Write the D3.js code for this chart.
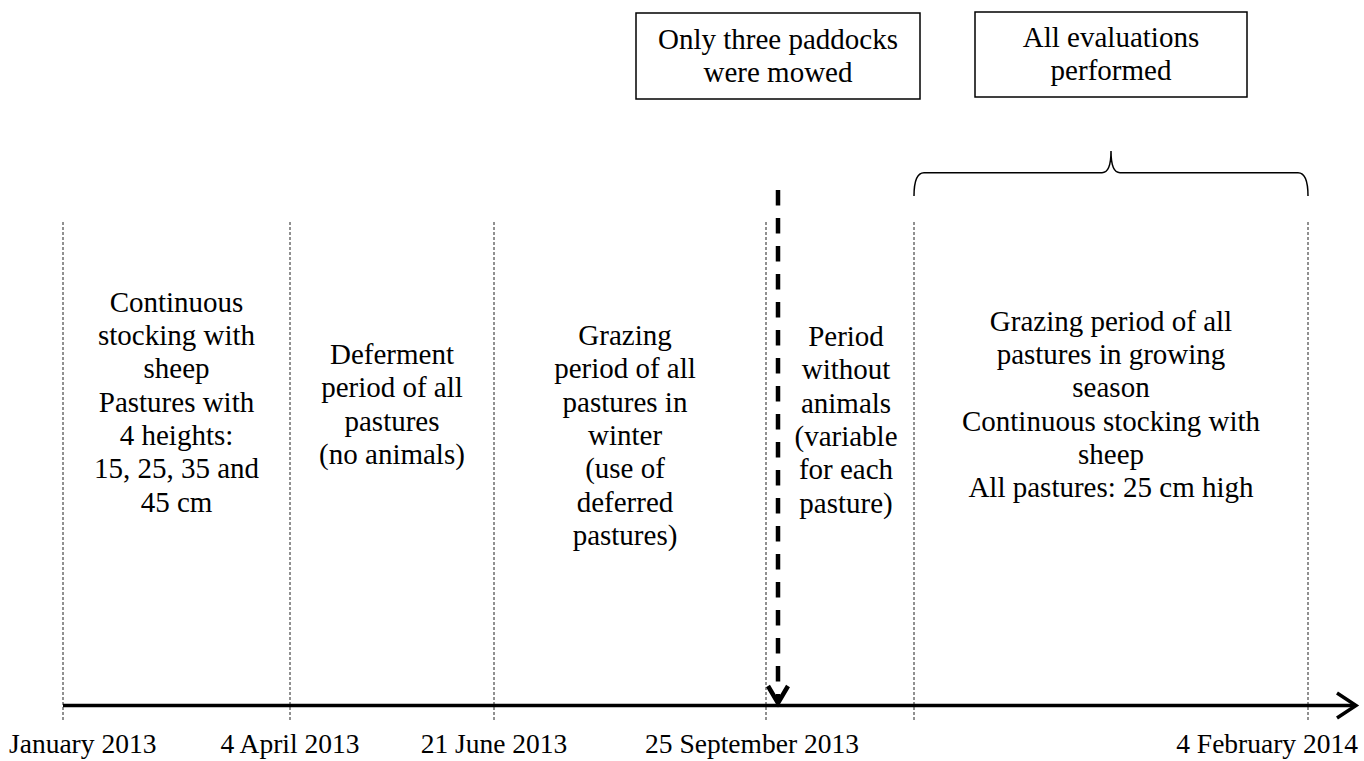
<!DOCTYPE html>
<html>
<head>
<meta charset="utf-8">
<script src="https://cdn.jsdelivr.net/npm/d3@7"></script>
<style>
body { margin: 0; background: #fff; }
svg { display: block; }
text { font-family: "Liberation Serif", "Times New Roman", serif; fill: #000; }
</style>
</head>
<body>
<script>
// boundaries of the periods (the fifth one has no date under it)
var dateLabels = ["January 2013", "4 April 2013", "21 June 2013", "25 September 2013", "", "4 February 2014"];

// text of each period, one list per column
var period1 = ["Continuous", "stocking with", "sheep", "Pastures with", "4 heights:", "15, 25, 35 and", "45 cm"];
var period2 = ["Deferment", "period of all", "pastures", "(no animals)"];
var period3 = ["Grazing", "period of all", "pastures in", "winter", "(use of", "deferred", "pastures)"];
var period4 = ["Period", "without", "animals", "(variable", "for each", "pasture)"];
var period5 = ["Grazing period of all", "pastures in growing", "season", "Continuous stocking with", "sheep", "All pastures: 25 cm high"];
var periods = [period1, period2, period3, period4, period5];

// notes in boxes on top
var mowNote = ["Only three paddocks", "were mowed"];
var evalNote = ["All evaluations", "performed"];

var width = 1364,
    height = 761;

var svg = d3.select("body")
    .append("svg")
    .attr("width", width)
    .attr("height", height);

// boundary index -> x position on the page
var x = d3.scaleLinear()
    .domain([0, 1, 2, 3, 4, 5])
    .range([63, 290, 494, 766, 914, 1308]);

var axisY = 705.5,
    lineH = 33.3,
    fs = 29;

// dotted separators
svg.selectAll(".sep")
    .data(dateLabels)
    .enter().append("line")
    .attr("class", "sep")
    .attr("x1", function(d, i) { return x(i); })
    .attr("x2", function(d, i) { return x(i); })
    .attr("y1", 222)
    .attr("y2", 720)
    .attr("stroke", "#222")
    .attr("stroke-width", 1)
    .attr("stroke-dasharray", "3,2");

// main time axis with open arrow head
svg.append("line")
    .attr("x1", x(0))
    .attr("x2", 1355)
    .attr("y1", axisY)
    .attr("y2", axisY)
    .attr("stroke", "#000")
    .attr("stroke-width", 3.5);

svg.append("path")
    .attr("d", "M1337,693 L1356," + axisY + " L1337,718")
    .attr("fill", "none")
    .attr("stroke", "#000")
    .attr("stroke-width", 3.5)
    .attr("stroke-linejoin", "miter");

// date labels, kept inside the page
var dateNudge = [0, 0, 0, -14, 0, 0];
svg.selectAll(".date")
    .data(dateLabels)
    .enter().append("text")
    .attr("class", "date")
    .attr("y", 753)
    .style("font-size", "27.5px")
    .text(function(d) { return d; })
    .each(function(d, i) {
        var w = this.getComputedTextLength();
        var left = Math.max(9, Math.min(1358 - w, x(i) + dateNudge[i] - w / 2));
        d3.select(this).attr("x", left);
    });

// period texts
var nudge = [0, 0, -5, 6, 0];
var firstLine = [311.7, 364, 345, 346, 330.7];

periods.forEach(function(lines, p) {
    var cx = (x(p) + x(p + 1)) / 2 + nudge[p];
    svg.append("g")
        .selectAll("text")
        .data(lines)
        .enter().append("text")
        .attr("x", cx)
        .attr("y", function(d, i) { return firstLine[p] + i * lineH; })
        .attr("text-anchor", "middle")
        .style("font-size", fs + "px")
        .text(function(d) { return d; });
});

// dashed arrow for the mowing
var mowX = x(3) + 12;

svg.append("line")
    .attr("x1", mowX)
    .attr("x2", mowX)
    .attr("y1", 190)
    .attr("y2", 700)
    .attr("stroke", "#000")
    .attr("stroke-width", 4.5)
    .attr("stroke-dasharray", "15.5,12.5");

svg.append("path")
    .attr("d", "M" + (mowX - 10) + ",686 L" + mowX + ",703 L" + (mowX + 10) + ",686")
    .attr("fill", "none")
    .attr("stroke", "#000")
    .attr("stroke-width", 4.5);

// brace over the evaluation period
var bx0 = x(4), bx1 = x(5), bmid = (bx0 + bx1) / 2, by = 172.7;
svg.append("path")
    .attr("d", "M" + bx0 + ",196 Q" + bx0 + "," + by + " " + (bx0 + 10) + "," + by +
        " L" + (bmid - 9) + "," + by + " Q" + bmid + "," + by + " " + bmid + ",151" +
        " Q" + bmid + "," + by + " " + (bmid + 9) + "," + by +
        " L" + (bx1 - 10) + "," + by + " Q" + bx1 + "," + by + " " + bx1 + ",196")
    .attr("fill", "none")
    .attr("stroke", "#000")
    .attr("stroke-width", 1.5);

// note boxes
function noteBox(lines, cx, w, y0, y1, t0) {
    svg.append("rect")
        .attr("x", cx - w / 2)
        .attr("y", y0)
        .attr("width", w)
        .attr("height", y1 - y0)
        .attr("fill", "#fff")
        .attr("stroke", "#000")
        .attr("stroke-width", 1.5);
    svg.append("g")
        .selectAll("text")
        .data(lines)
        .enter().append("text")
        .attr("x", cx)
        .attr("y", function(d, i) { return t0 + i * lineH; })
        .attr("text-anchor", "middle")
        .style("font-size", fs + "px")
        .text(function(d) { return d; });
}

noteBox(mowNote, mowX, 284, 13, 99, 49);
noteBox(evalNote, bmid, 272, 12, 97, 47);
</script>
</body>
</html>
